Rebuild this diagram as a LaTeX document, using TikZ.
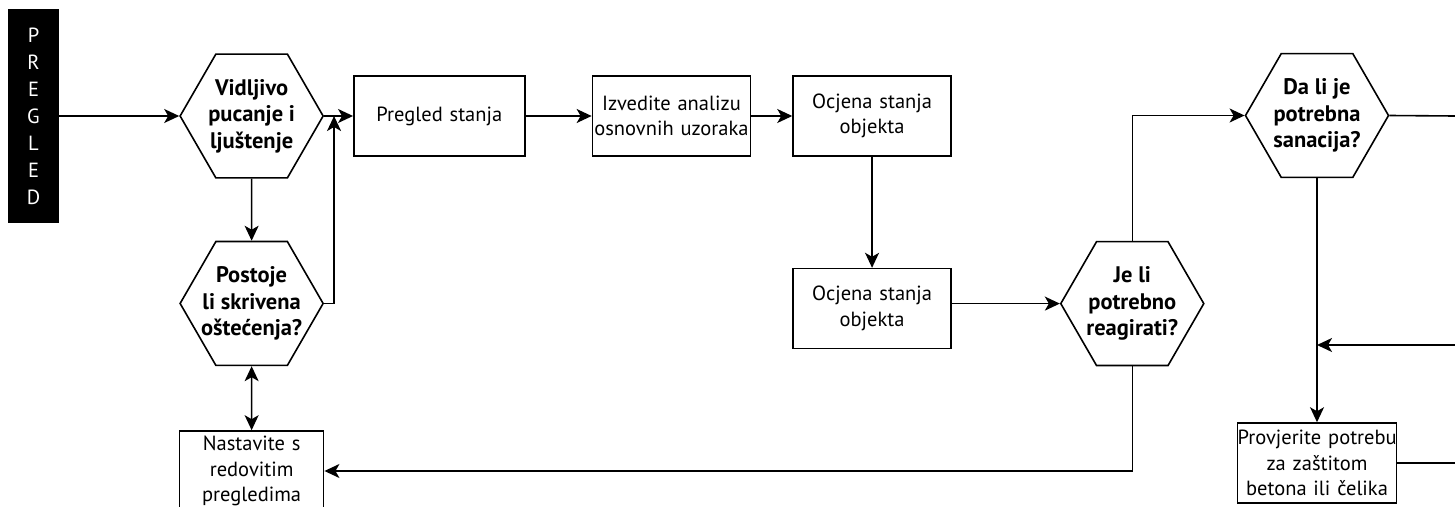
\documentclass[tikz,border=0pt]{standalone}
\usepackage{fontspec}
\setmainfont{PT Sans}
\usepackage{tikz}
\usetikzlibrary{shapes.geometric,arrows.meta,positioning}
\tikzstyle{hexa} = [regular polygon, regular polygon sides=6, draw=black, line width=1.6pt, fill=white, text=black, minimum size=143pt, inner sep=-30pt, align=center, font=\bfseries\fontsize{22.5}{26.5}\selectfont]
\tikzstyle{box} = [rectangle, draw=black, line width=1.6pt, fill=white, text=black, align=center, minimum height=80pt, inner sep=0pt, font=\fontsize{20.5}{25.5}\selectfont]
\tikzstyle{titlebox} = [rectangle, fill=black, text=white, align=center, minimum width=51pt, minimum height=214pt, inner sep=0pt, font=\fontsize{20.5}{27}\selectfont]
\tikzstyle{tedge}  = [draw, line width=1.6pt, >={Stealth[length=15pt,width=14pt,inset=4pt]}, ->]
\tikzstyle{dedge}  = [draw, line width=1.6pt, >={Stealth[length=15pt,width=14pt,inset=4pt]}, <->]
\tikzstyle{nedge}  = [draw, line width=1.6pt]

\begin{document}
\begin{tikzpicture}[auto]
\useasboundingbox (0,0) rectangle (1455pt,-506pt);
%operations=========================

\node[titlebox] (pregled) at (33.5pt,-116pt) {P\\R\\E\\G\\L\\E\\D};

\node[hexa, right=120pt of pregled] (vid) {Vidljivo\\pucanje i\\ljuštenje};
\node[hexa, below=62pt of vid] (skriv) {Postoje\\li skrivena\\oštećenja?};
\node[box, text width=144pt, below=64pt of skriv] (nast) {Nastavite~s\\redovitim\\pregledima};

\node[box, text width=171pt, right=29pt of vid] (pst) {Pregled stanja};
\node[box, text width=158pt, right=66pt of pst] (izv) {Izvedite analizu\\osnovnih~uzoraka};
\node[box, text width=158pt, right=41pt of izv] (ocj1) {Ocjena stanja\\objekta};
\node[box, text width=158pt, below=111pt of ocj1] (ocj2) {Ocjena stanja\\objekta};

\node[hexa, right=108pt of ocj2, yshift=5pt] (jeli) {Je li\\potrebno\\reagirati?};
\node[hexa] (dali) at (1317pt,-115.5pt) {Da li je\\potrebna\\sanacija?};
\node[box, text width=159pt, below=244pt of dali] (prov) {Provjerite~potrebu\\za zaštitom\\betona ili čelika};

\coordinate[right=10pt of vid.east] (j1);
\coordinate (r1) at (1455pt,-116pt);
\coordinate (r2) at (1455pt,-345pt);
\coordinate (r3) at (1455pt,-463pt);

% edges
\path[tedge] (pregled) edge (vid);
\path[tedge] (vid) edge (pst);
\path[tedge] (vid) edge (skriv);
\path[tedge] (skriv.east) -| (j1);
\path[dedge] (skriv) edge (nast);
\path[tedge] (pst) edge (izv);
\path[tedge] (izv) edge (ocj1);
\path[tedge] (ocj1) edge (ocj2);
\path[tedge] (ocj2.east |- jeli.west) -- (jeli.west);
\path[tedge] (jeli.north) |- (dali.west);
\path[tedge] (jeli.south) |- (nast.east);
\path[nedge] (dali.east) -- (r1);
\path[tedge] (dali) edge (prov);
\path[tedge] (r2) -- (dali.south |- r2);
\path[nedge] (prov.east |- r3) -- (r3);

\end{tikzpicture}
\end{document}
